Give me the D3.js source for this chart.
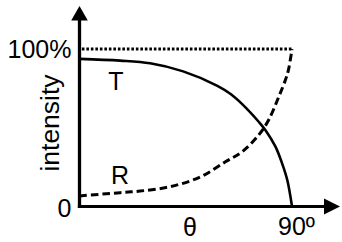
<!DOCTYPE html>
<html>
<head>
<meta charset="utf-8">
<script src="https://cdn.jsdelivr.net/npm/d3@7"></script>
<style>
  html, body { margin: 0; padding: 0; background: #fff; }
  svg { display: block; }
  text { font-family: "Liberation Sans", Arial, Helvetica, sans-serif; fill: #000; }
</style>
</head>
<body>
<svg id="chart" width="342" height="242"></svg>
<script>
// Data (theta in degrees, intensity in %)
const rTheta  = [0, 17.2, 25.7, 38.4, 51.1, 61.8, 68.9, 75.9, 80.1, 84.4, 87.2, 88.5, 90];
const rValues = [6.7, 8.8, 9.8, 12.6, 18.7, 28.4, 34.8, 45.4, 54.9, 69.7, 80.3, 86.7, 100];
const tTheta  = [0, 17.2, 29.9, 43.9, 58.4, 64.0, 68.9, 75.9, 78.7, 83.0, 85.8, 88.0, 90];
const tValues = [93.7, 92.6, 90.9, 85.8, 76.6, 71.4, 65.0, 53.8, 48.6, 38.0, 27.4, 16.8, 0];
const fullTheta  = [1, 90];
const fullValues = [100, 100];
const yTickValues = [0, 100];
const yTickLabels = ["0", "100%"];
const xTickValues = [90];
const xTickLabels = ["90º"];
const xTitle = "θ";
const yTitle = "intensity";
const curveLabels = ["T", "R"];

const svg = d3.select("#chart");
const x = d3.scaleLinear().domain([0, 90]).range([79.5, 292]);
const y = d3.scaleLinear().domain([0, 100]).range([206.5, 49]);

const line = d3.line().x(d => x(d[0])).y(d => y(d[1])).curve(d3.curveCatmullRom.alpha(0.5));

// 100% dotted reference
svg.append("path")
  .attr("d", d3.line().x(d => x(d[0])).y(d => y(d[1]))(fullTheta.map((t, i) => [t, fullValues[i]])))
  .attr("fill", "none").attr("stroke", "#000").attr("stroke-width", 2.8)
  .attr("stroke-dasharray", "2.6,1.9");

// T curve (solid)
svg.append("path")
  .attr("d", line(tTheta.map((t, i) => [t, tValues[i]])))
  .attr("fill", "none").attr("stroke", "#000").attr("stroke-width", 2.6);

// R curve (dashed)
svg.append("path")
  .attr("d", line(rTheta.map((t, i) => [t, rValues[i]])))
  .attr("fill", "none").attr("stroke", "#000").attr("stroke-width", 3)
  .attr("stroke-dasharray", "7.5,4");

// Axes with arrows
const x0 = x(0), y0 = y(0);
svg.append("path")
  .attr("d", `M${x0},${y0 + 1.5}V18`)
  .attr("stroke", "#000").attr("stroke-width", 3.3).attr("fill", "none");
svg.append("path")
  .attr("d", `M${x0 - 1.6},${y0}H326`)
  .attr("stroke", "#000").attr("stroke-width", 3).attr("fill", "none");
svg.append("path")
  .attr("d", `M${x0},6L${x0 + 8.3},20.5L${x0 - 8.3},20.5Z`).attr("fill", "#000");
svg.append("path")
  .attr("d", `M340,${y0}L324,${y0 - 8}L324,${y0 + 8}Z`).attr("fill", "#000");

// Y tick labels
const yOff = [10.3, 8.7];
svg.selectAll("text.ytick").data(yTickValues).enter().append("text")
  .attr("class", "ytick")
  .attr("x", x0 - 8).attr("y", (d, i) => y(d) + yOff[i])
  .attr("text-anchor", "end").attr("font-size", 25)
  .text((d, i) => yTickLabels[i]);

// X tick labels
svg.selectAll("text.xtick").data(xTickValues).enter().append("text")
  .attr("class", "xtick")
  .attr("x", d => x(d) + 4.5).attr("y", 235)
  .attr("text-anchor", "middle").attr("font-size", 25)
  .text((d, i) => xTickLabels[i]);

// Axis titles
svg.append("text").attr("x", 190).attr("y", 235.5)
  .attr("text-anchor", "middle").attr("font-size", 25).text(xTitle);
svg.append("text")
  .attr("transform", "translate(59,123) rotate(-90)")
  .attr("text-anchor", "middle").attr("font-size", 26.5).text(yTitle);

// Curve labels
svg.append("text").attr("x", 116).attr("y", 90)
  .attr("text-anchor", "middle").attr("font-size", 25).text(curveLabels[0]);
svg.append("text").attr("x", 120).attr("y", 184.3)
  .attr("text-anchor", "middle").attr("font-size", 25).text(curveLabels[1]);
</script>
</body>
</html>
